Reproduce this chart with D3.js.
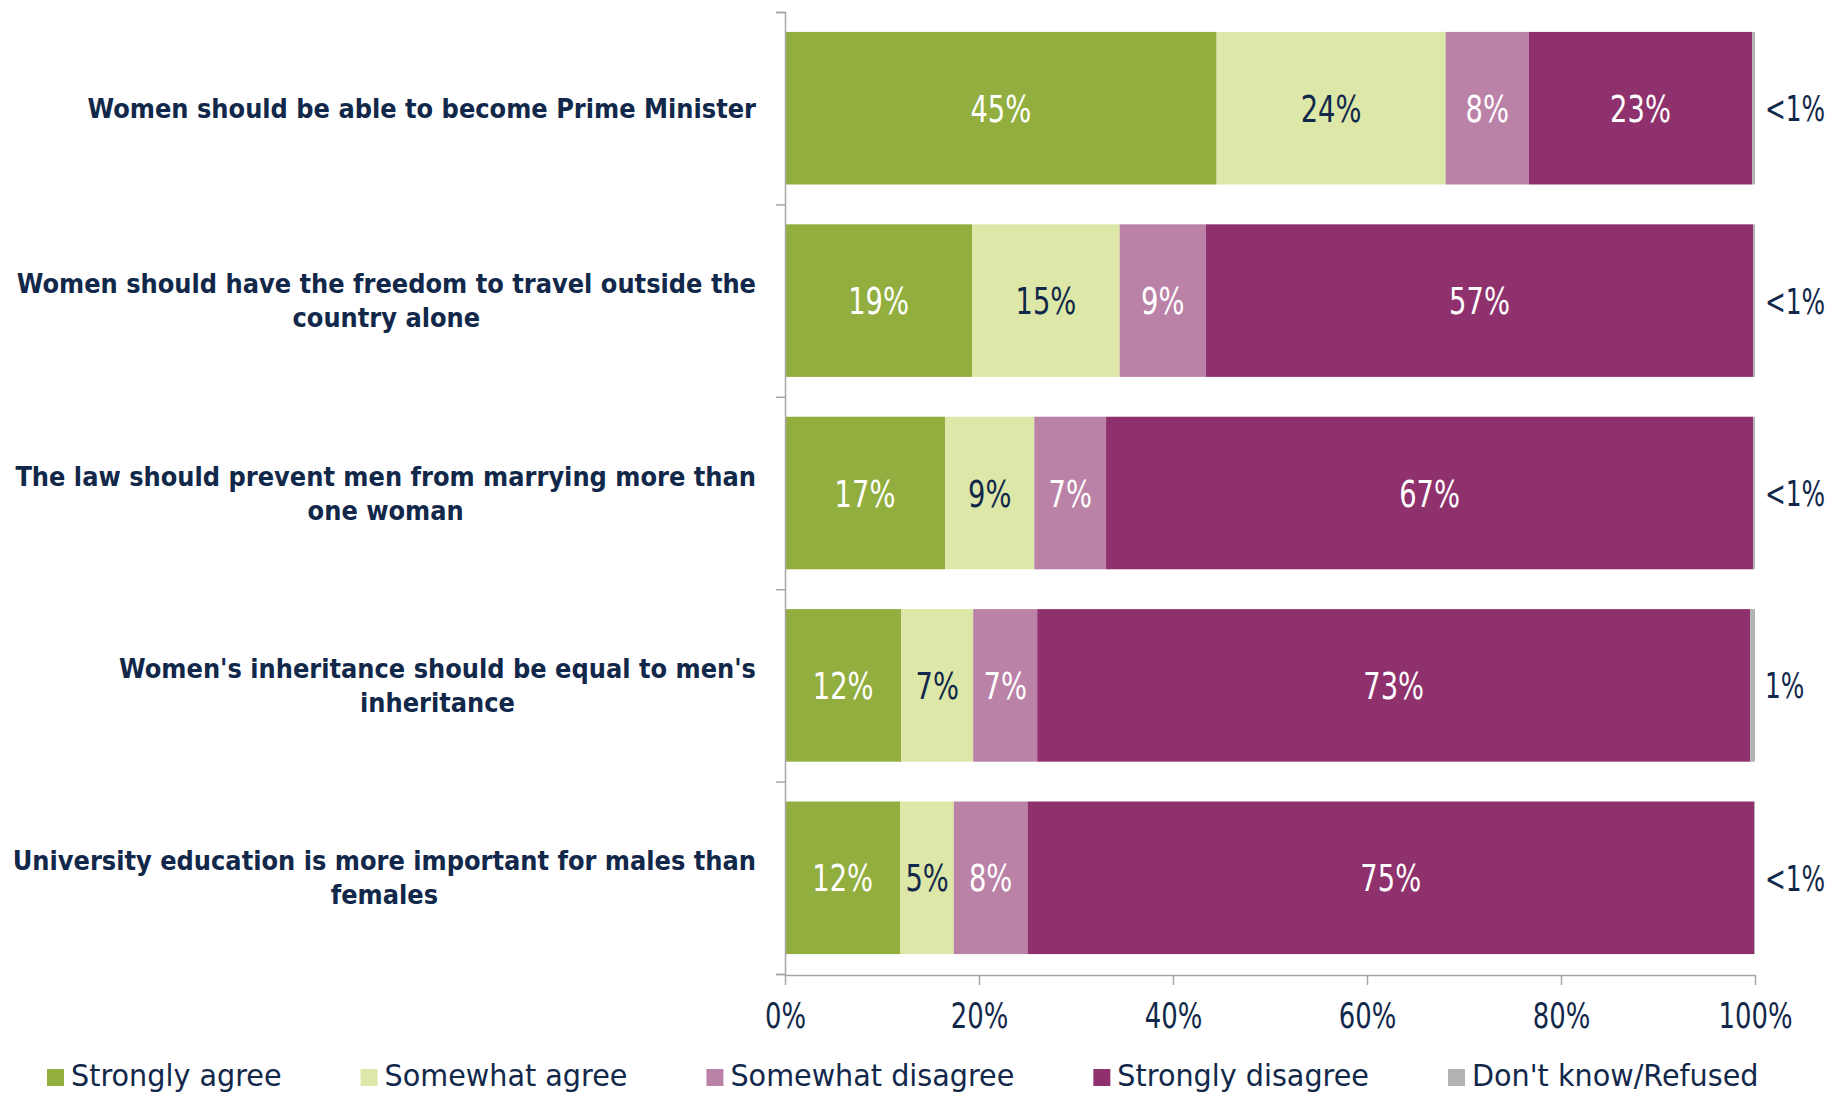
<!DOCTYPE html>
<html><head><meta charset="utf-8">
<script src="https://cdn.jsdelivr.net/npm/d3@7"></script>
<style>
html,body{margin:0;padding:0;background:#fff;}
svg{display:block;}
</style>
</head><body>
<svg id="chart" width="1830" height="1095"></svg>
<script>
// ---------- DATA ----------
const categoryLines = [
  ["Women should be able to become Prime Minister"],
  ["Women should have the freedom to travel outside the", "country alone"],
  ["The law should prevent men from marrying more than", "one woman"],
  ["Women's inheritance should be equal to men's", "inheritance"],
  ["University education is more important for males than", "females"]
];
const seriesNames = ["Strongly agree", "Somewhat agree", "Somewhat disagree", "Strongly disagree", "Don't know/Refused"];
const stronglyAgree    = [44.5, 19.3, 16.5, 12.0, 11.9];
const somewhatAgree    = [23.6, 15.2, 9.2, 7.4, 5.5];
const somewhatDisagree = [8.6, 8.9, 7.4, 6.6, 7.6];
const stronglyDisagree = [23.0, 56.4, 66.7, 73.5, 74.9];
const dontKnow         = [0.3, 0.2, 0.2, 0.5, 0.1];
const stronglyAgreeLabels    = ["45%", "19%", "17%", "12%", "12%"];
const somewhatAgreeLabels    = ["24%", "15%", "9%", "7%", "5%"];
const somewhatDisagreeLabels = ["8%", "9%", "7%", "7%", "8%"];
const stronglyDisagreeLabels = ["23%", "57%", "67%", "73%", "75%"];
const dontKnowLabels         = ["<1%", "<1%", "<1%", "1%", "<1%"];
const xTickValues = [0, 20, 40, 60, 80, 100];
const xTickLabels = ["0%", "20%", "40%", "60%", "80%", "100%"];

// ---------- STYLE ----------
const colors = ["#92ae3f", "#dde8a8", "#bb82a8", "#8f316c", "#b3b3b3"];
const labelColors = ["#ffffff", "#12284a", "#ffffff", "#ffffff", "#12284a"];
const navy = "#12284a";
const axisColor = "#a6a6a6";
const FONT = "'DejaVu Sans', Verdana, sans-serif";

const svg = d3.select("#chart");
const x = d3.scaleLinear().domain([0, 100]).range([785, 1755]);
const y = d3.scaleBand().domain(d3.range(categoryLines.length)).range([12, 974]).paddingInner(0.207).paddingOuter(0.1035);
const yEdges = d3.scaleLinear().domain([0, categoryLines.length]).range([12, 974]);

// horizontally condense a text (font is wider than the original one)
function condense(sel, k) {
  sel.each(function () {
    const tx = +(this.getAttribute("x") || 0), ty = +(this.getAttribute("y") || 0);
    this.setAttribute("x", 0);
    this.setAttribute("y", 0);
    this.setAttribute("transform", `translate(${tx},${ty}) scale(${k},1)`);
    this.__w = this.getComputedTextLength() * k;
  });
}

const seriesValues = [stronglyAgree, somewhatAgree, somewhatDisagree, stronglyDisagree, dontKnow];
const seriesLabels = [stronglyAgreeLabels, somewhatAgreeLabels, somewhatDisagreeLabels, stronglyDisagreeLabels, dontKnowLabels];

// build stacked rows
const rows = categoryLines.map((c, i) => {
  const obj = {idx: i};
  seriesNames.forEach((s, j) => obj[s] = seriesValues[j][i]);
  return obj;
});
const stack = d3.stack().keys(seriesNames)(rows);

// ---------- BARS ----------
const gBars = svg.append("g");
stack.forEach((layer, j) => {
  gBars.selectAll(null).data(layer).enter().append("rect")
    .attr("x", d => x(d[0]))
    .attr("width", d => x(d[1]) - x(d[0]))
    .attr("y", d => y(d.data.idx))
    .attr("height", y.bandwidth())
    .attr("fill", colors[j]);
});

// ---------- AXES ----------
const xAxis = d3.axisBottom(x).tickValues(xTickValues).tickFormat((d, i) => xTickLabels[i]).tickSize(10).tickSizeOuter(0);
const gx = svg.append("g").attr("transform", "translate(0,975)").call(xAxis);
gx.select(".domain").attr("stroke", axisColor).attr("stroke-width", 1.5);
gx.selectAll(".tick line").attr("stroke", axisColor).attr("stroke-width", 1.5);
gx.selectAll(".tick text").attr("y", 53).attr("dy", 0)
  .attr("font-family", FONT).attr("font-size", 35).attr("fill", navy);
condense(gx.selectAll(".tick text"), 0.74);

const yAxis = d3.axisLeft(yEdges).tickValues(d3.range(categoryLines.length + 1)).tickFormat("").tickSize(9).tickSizeOuter(9);
const gy = svg.append("g").attr("transform", "translate(785,0)").call(yAxis);
gy.select(".domain").attr("stroke", axisColor).attr("stroke-width", 1.5);
gy.selectAll(".tick line").attr("stroke", axisColor).attr("stroke-width", 1.5);

// ---------- VALUE LABELS ----------
const gLab = svg.append("g").attr("font-family", FONT).attr("font-size", 37);
stack.forEach((layer, j) => {
  if (j === 4) return;
  const t = gLab.selectAll(null).data(layer).enter().append("text")
    .attr("x", d => (x(d[0]) + x(d[1])) / 2)
    .attr("y", d => y(d.data.idx) + y.bandwidth() / 2 + 13.5)
    .attr("text-anchor", "middle")
    .attr("fill", labelColors[j])
    .text((d, i) => seriesLabels[j][i]);
  condense(t, 0.74);
});
const outside = gLab.selectAll(null).data(stack[4]).enter().append("text")
  .attr("x", x(100) + 10)
  .attr("y", d => y(d.data.idx) + y.bandwidth() / 2 + 13)
  .attr("text-anchor", "start")
  .attr("font-size", 35)
  .attr("fill", navy)
  .text((d, i) => dontKnowLabels[i]);
condense(outside, 0.71);

// ---------- CATEGORY LABELS ----------
const labelRight = 756;
const lineGap = 34;
categoryLines.forEach((lines, i) => {
  const g = svg.append("g");
  const cy = y(i) + y.bandwidth() / 2;
  const n = lines.length;
  const texts = g.selectAll(null).data(lines).enter().append("text")
    .attr("x", 0)
    .attr("y", (d, k) => cy + (k - (n - 1) / 2) * lineGap + 9.5)
    .attr("text-anchor", "middle")
    .attr("font-family", FONT).attr("font-weight", "bold").attr("font-size", 27)
    .attr("fill", navy)
    .text(d => d);
  condense(texts, 0.895);
  let maxW = 0;
  texts.each(function () { maxW = Math.max(maxW, this.__w); });
  g.attr("transform", `translate(${labelRight - maxW / 2},0)`);
});

// ---------- LEGEND ----------
const gLeg = svg.append("g").attr("font-family", FONT).attr("font-size", 30);
let lx = 47;
seriesNames.forEach((s, j) => {
  gLeg.append("rect").attr("x", lx).attr("y", 1069).attr("width", 17).attr("height", 17).attr("fill", colors[j]);
  const t = gLeg.append("text").attr("x", lx + 24).attr("y", 1086).attr("fill", navy).text(s);
  condense(t, 0.955);
  lx += 24 + t.node().__w + 79;
});
</script>
</body></html>
